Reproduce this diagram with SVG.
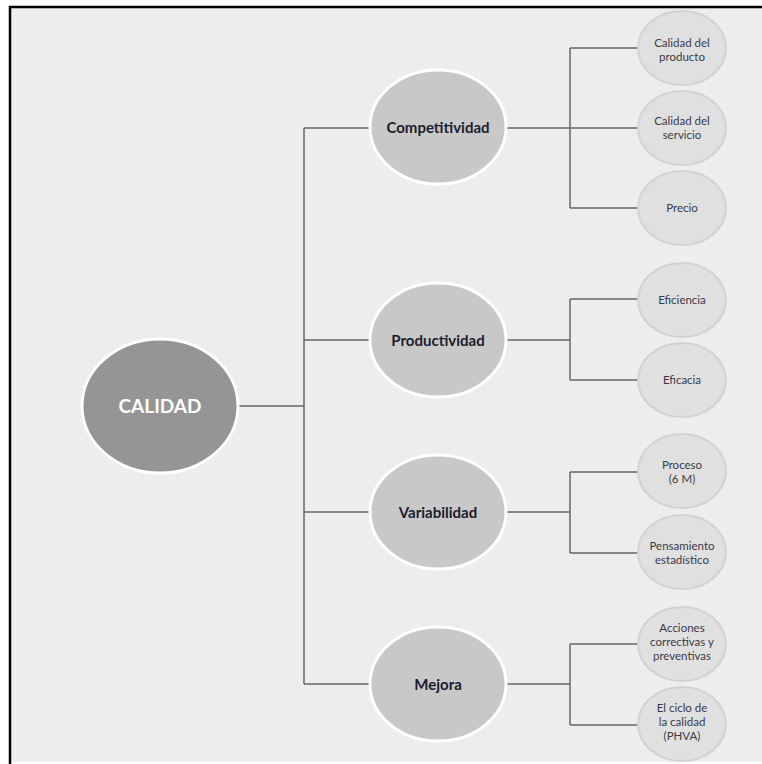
<svg xmlns="http://www.w3.org/2000/svg" width="762" height="764" viewBox="0 0 762 764">
<style>
.l1{fill:#959595;stroke:#ffffff;stroke-width:3}
.l2{fill:#c8c8c8;stroke:#ffffff;stroke-width:3}
.l3{fill:#e0e0e0;stroke:#d2d2d2;stroke-width:2}
.t1{font-family:Lato,"Open Sans",sans-serif;font-weight:bold;font-size:19px;fill:#ffffff;text-anchor:middle}
.t2{font-family:Lato,"Open Sans",sans-serif;font-weight:bold;font-size:15px;fill:#1c1c2c;text-anchor:middle}
.t3{font-family:Lato,"Open Sans",sans-serif;font-size:11.5px;fill:#3a3a48;text-anchor:middle}
.c{fill:none;stroke:#666666;stroke-width:1.5}
</style>
<rect x="0" y="0" width="762" height="764" fill="#ffffff"/>
<rect x="10" y="7" width="752" height="755" fill="#ededed"/>
<path d="M10,764 V7 H762" fill="none" stroke="#000000" stroke-width="2.5"/>
<g id="connectors">
<path class="c" d="M238,406 H304 M304,128 V684 M304,128 H372 M304,340 H372 M304,512 H372 M304,684 H372"/>
<path class="c" d="M506,128 H640 M570,48 V208 M570,48 H640 M570,208 H640"/>
<path class="c" d="M506,340 H570 M570,299 V380 M570,299 H640 M570,380 H640"/>
<path class="c" d="M506,512 H570 M570,472 V553 M570,472 H640 M570,553 H640"/>
<path class="c" d="M506,684 H570 M570,644 V725 M570,644 H640 M570,725 H640"/>
</g>
<g id="calidad"><ellipse class="l1" cx="160" cy="406" rx="78" ry="67"/><text class="t1" x="160" y="413">CALIDAD</text></g>
<g id="competitividad"><ellipse class="l2" cx="438" cy="127" rx="68" ry="57"/><text class="t2" x="438" y="133">Competitividad</text></g>
<g id="productividad"><ellipse class="l2" cx="438" cy="340" rx="68" ry="57"/><text class="t2" x="438" y="346">Productividad</text></g>
<g id="variabilidad"><ellipse class="l2" cx="438" cy="512" rx="68" ry="57"/><text class="t2" x="438" y="518">Variabilidad</text></g>
<g id="mejora"><ellipse class="l2" cx="438" cy="684" rx="68" ry="57"/><text class="t2" x="438" y="690">Mejora</text></g>
<g id="calidad-producto"><ellipse class="l3" cx="682" cy="48" rx="44" ry="37"/><text class="t3" x="682" y="47">Calidad del</text><text class="t3" x="682" y="61">producto</text></g>
<g id="calidad-servicio"><ellipse class="l3" cx="682" cy="128" rx="44" ry="37"/><text class="t3" x="682" y="125">Calidad del</text><text class="t3" x="682" y="139">servicio</text></g>
<g id="precio"><ellipse class="l3" cx="682" cy="208" rx="44" ry="37"/><text class="t3" x="682" y="212">Precio</text></g>
<g id="eficiencia"><ellipse class="l3" cx="682" cy="300" rx="44" ry="37"/><text class="t3" x="682" y="304">Eficiencia</text></g>
<g id="eficacia"><ellipse class="l3" cx="682" cy="380" rx="44" ry="37"/><text class="t3" x="682" y="384">Eficacia</text></g>
<g id="proceso"><ellipse class="l3" cx="682" cy="471" rx="44" ry="37"/><text class="t3" x="682" y="469">Proceso</text><text class="t3" x="682" y="483">(6 M)</text></g>
<g id="pensamiento"><ellipse class="l3" cx="682" cy="552" rx="44" ry="37"/><text class="t3" x="682" y="550">Pensamiento</text><text class="t3" x="682" y="564">estadístico</text></g>
<g id="acciones"><ellipse class="l3" cx="682" cy="644" rx="44" ry="37"/><text class="t3" x="682" y="632">Acciones</text><text class="t3" x="682" y="646">correctivas y</text><text class="t3" x="682" y="660">preventivas</text></g>
<g id="ciclo"><ellipse class="l3" cx="682" cy="724" rx="44" ry="37"/><text class="t3" x="682" y="712">El ciclo de</text><text class="t3" x="682" y="726">la calidad</text><text class="t3" x="682" y="740">(PHVA)</text></g>
</svg>
